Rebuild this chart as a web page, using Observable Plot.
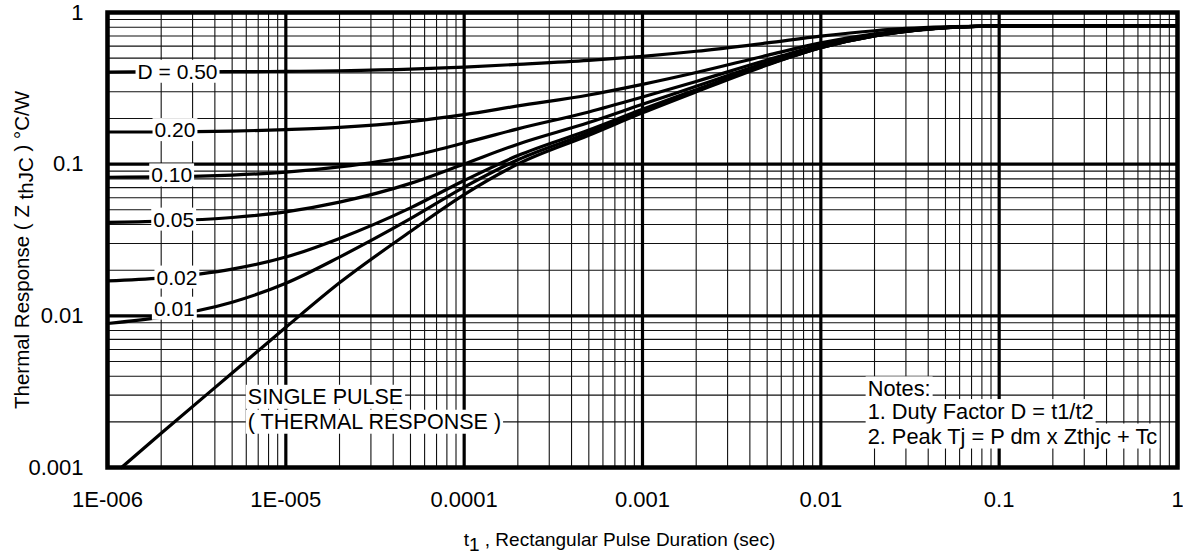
<!DOCTYPE html>
<html><head><meta charset="utf-8">
<script src="https://cdn.jsdelivr.net/npm/d3@7"></script>
<script src="https://cdn.jsdelivr.net/npm/@observablehq/plot@0.6"></script>
<style>
  html,body{margin:0;padding:0;background:#fff}
  #chart svg{display:block}
</style>
</head><body><div id="chart"></div>
<script>
// ---- data ----
const xDecades = [1e-6, 1e-5, 1e-4, 1e-3, 1e-2, 1e-1, 1];
const xTickLabels = ["1E-006", "1E-005", "0.0001", "0.001", "0.01", "0.1", "1"];
const yDecades = [0.001, 0.01, 0.1, 1];
const yTickLabels = ["0.001", "0.01", "0.1", "1"];

const tPoints = [1e-6, 2e-6, 5e-6, 1e-5, 2e-5, 5e-5, 1e-4, 2e-4, 5e-4, 1e-3, 2e-3, 5e-3, 1e-2, 2e-2, 3e-2, 5e-2, 0.1, 0.2, 1];
const zD50 = [0.405, 0.406, 0.407, 0.409, 0.413, 0.423, 0.437, 0.455, 0.483, 0.514, 0.555, 0.63, 0.698, 0.758, 0.785, 0.805, 0.815, 0.82, 0.82];
const zD20 = [0.163, 0.163, 0.165, 0.169, 0.175, 0.191, 0.212, 0.242, 0.286, 0.336, 0.402, 0.522, 0.63, 0.722, 0.762, 0.798, 0.815, 0.82, 0.82];
const zD10 = [0.082, 0.0825, 0.0848, 0.0886, 0.096, 0.113, 0.138, 0.171, 0.221, 0.277, 0.351, 0.486, 0.608, 0.711, 0.756, 0.795, 0.815, 0.82, 0.82];
const zD05 = [0.0413, 0.0421, 0.0445, 0.0485, 0.0562, 0.0747, 0.1004, 0.1355, 0.188, 0.248, 0.326, 0.468, 0.596, 0.706, 0.753, 0.794, 0.815, 0.82, 0.82];
const zD02 = [0.0170, 0.0178, 0.0203, 0.0244, 0.0324, 0.0515, 0.078, 0.114, 0.168, 0.23, 0.31, 0.457, 0.589, 0.702, 0.751, 0.793, 0.815, 0.82, 0.82];
const zD01 = [0.0089, 0.0098, 0.0123, 0.0164, 0.0244, 0.0437, 0.0705, 0.107, 0.161, 0.224, 0.305, 0.454, 0.587, 0.701, 0.75, 0.793, 0.815, 0.82, 0.82];
const tSingle = [1.2e-6, 2e-6, 5e-6, 1e-5, 2e-5, 5e-5, 1e-4, 2e-4, 5e-4, 1e-3, 2e-3, 5e-3, 1e-2, 2e-2, 3e-2, 5e-2, 0.1, 0.2, 1];
const zSingle = [0.001, 0.00168, 0.0042, 0.0084, 0.0165, 0.036, 0.063, 0.1, 0.155, 0.218, 0.3, 0.45, 0.585, 0.7, 0.75, 0.792, 0.815, 0.82, 0.82];

const curveLabels = ["D = 0.50", "0.20", "0.10", "0.05", "0.02", "0.01"];
const curveLabelX = [2.47e-6, 2.39e-6, 2.29e-6, 2.35e-6, 2.45e-6, 2.37e-6];
const curveLabelY = [0.405, 0.167, 0.084, 0.0429, 0.0178, 0.0111];

const pulseLines = ["SINGLE PULSE", "( THERMAL RESPONSE )"];
const pulseX = 6.12e-6;
const pulseY = [0.00292, 0.0020];

const noteLines = ["Notes:", "1. Duty Factor D = t1/t2", "2. Peak Tj = P dm x Zthjc + Tc"];
const noteX = 0.0183;
const noteY = [0.00327, 0.00232, 0.0016];

// ---- build tables ----
const series = [
  {s: "D=0.50", t: tPoints, z: zD50},
  {s: "D=0.20", t: tPoints, z: zD20},
  {s: "D=0.10", t: tPoints, z: zD10},
  {s: "D=0.05", t: tPoints, z: zD05},
  {s: "D=0.02", t: tPoints, z: zD02},
  {s: "D=0.01", t: tPoints, z: zD01},
  {s: "single", t: tSingle, z: zSingle}
];
const rows = series.flatMap(d => d.t.map((t, i) => ({s: d.s, t, z: d.z[i]})));
const isDecade = (v, list) => list.some(d => Math.abs(v / d - 1) < 1e-9);
const xMinor = d3.scaleLog().domain([1e-6, 1]).ticks().filter(v => !isDecade(v, xDecades));
const yMinor = d3.scaleLog().domain([0.001, 1]).ticks().filter(v => !isDecade(v, yDecades));
const labelIdx = (v, list) => list.findIndex(d => Math.abs(v / d - 1) < 1e-9);

const curveLabelData = curveLabels.map((text, i) => ({text, x: curveLabelX[i], y: curveLabelY[i]}));
const pulseData = pulseLines.map((text, i) => ({text, x: pulseX, y: pulseY[i]}));
const noteData = noteLines.map((text, i) => ({text, x: noteX, y: noteY[i]}));

const FONT = "'Liberation Sans', Arial, Helvetica, sans-serif";

const plot = Plot.plot({
  width: 1183,
  height: 554,
  marginTop: 12,
  marginRight: 6,
  marginBottom: 87,
  marginLeft: 107,
  x: {type: "log", domain: [1e-6, 1]},
  y: {type: "log", domain: [0.001, 1]},
  style: {fontFamily: FONT, fontSize: "20px", color: "#000", background: "#fff"},
  marks: [
    Plot.ruleX(xMinor, {stroke: "#111", strokeWidth: 1.1}),
    Plot.ruleY(yMinor, {stroke: "#111", strokeWidth: 1.1}),
    Plot.ruleX(xDecades, {stroke: "#000", strokeWidth: 3.2}),
    Plot.ruleY(yDecades, {stroke: "#000", strokeWidth: 3.2}),
    Plot.frame({stroke: "#000", strokeWidth: 4.5}),
    Plot.axisX({ticks: xDecades, tickFormat: d => xTickLabels[labelIdx(d, xDecades)], tickSize: 0, tickPadding: 24, label: null, fontSize: 22}),
    Plot.axisY({ticks: yDecades, tickFormat: d => yTickLabels[labelIdx(d, yDecades)], tickSize: 0, tickPadding: 24, label: null, fontSize: 22}),
    Plot.line(rows, {x: "t", y: "z", z: "s", stroke: "#000", strokeWidth: 3.2, curve: "monotone-x"}),
    Plot.text(curveLabelData, {x: "x", y: "y", text: "text", fill: "#000", fontSize: 21}),
    Plot.text(pulseData, {x: "x", y: "y", text: "text", fill: "#000", fontSize: 21.5, textAnchor: "start"}),
    Plot.text(noteData, {x: "x", y: "y", text: "text", fill: "#000", fontSize: 21.8, textAnchor: "start"})
  ]
});

document.getElementById("chart").appendChild(plot);

// white boxes behind in-plot labels
const svg = d3.select(plot);
svg.selectAll('g[aria-label="text"] text').each(function() {
  const b = this.getBBox();
  const padX = 2, padY = 0;
  const r = document.createElementNS("http://www.w3.org/2000/svg", "rect");
  r.setAttribute("x", b.x - padX);
  r.setAttribute("y", b.y - padY);
  r.setAttribute("width", b.width + 2 * padX);
  r.setAttribute("height", b.height + 2 * padY);
  r.setAttribute("fill", "#fff");
  r.setAttribute("stroke", "none");
  const tr = this.getAttribute("transform");
  if (tr) r.setAttribute("transform", tr);
  this.parentNode.insertBefore(r, this);
});

// axis titles
const xs = plot.scale("x");
const xStart = xs.apply(1e-4);
const xl = svg.append("text")
  .attr("x", xStart).attr("y", 546)
  .attr("text-anchor", "start")
  .attr("font-family", FONT).attr("font-size", 19).attr("fill", "#000");
xl.append("tspan").text("t");
xl.append("tspan").attr("dy", 5).text("1");
xl.append("tspan").attr("dy", -5).text(" , Rectangular Pulse Duration (sec)");

const yc = 250;
const yl = svg.append("text")
  .attr("transform", `translate(28.5, ${yc}) rotate(-90)`)
  .attr("text-anchor", "middle")
  .attr("font-family", FONT).attr("font-size", 20.5).attr("fill", "#000");
yl.append("tspan").text("Thermal Response ( Z ");
yl.append("tspan").attr("dy", 4).text("thJC");
yl.append("tspan").attr("dy", -4).text(" ) °C/W");
</script>
</body></html>
